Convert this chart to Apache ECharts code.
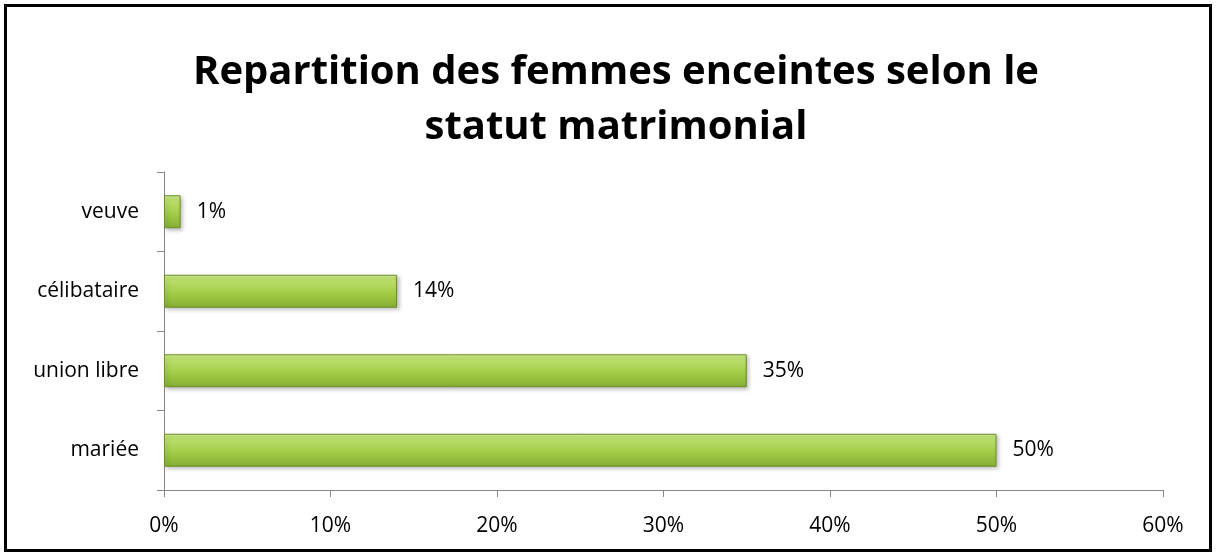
<!DOCTYPE html>
<html>
<head>
<meta charset="utf-8">
<script src="https://cdn.jsdelivr.net/npm/echarts@6/dist/echarts.min.js"></script>
<style>
  html, body { margin: 0; padding: 0; background: #fff; }
  #main { width: 1216px; height: 556px; box-sizing: border-box; }
  .frame { position: absolute; left: 4px; top: 4px; width: 1208px; height: 548px; box-sizing: border-box; border: 3px solid #000; pointer-events: none; }
</style>
</head>
<body>
<div id="main"></div>
<div class="frame"></div>
<script>
  // catégories de bas en haut
  var categories = ['mariée', 'union libre', 'célibataire', 'veuve'];
  var values = [50, 35, 14, 1];
  var xTicks = [0, 10, 20, 30, 40, 50, 60];

  var myChart = echarts.init(document.getElementById('main'));

  var option = {
    animation: false,
    title: {
      text: 'Repartition des femmes enceintes selon le\nstatut matrimonial',
      left: 611,
      textAlign: 'center',
      top: 40,
      textStyle: {
        fontFamily: 'Open Sans',
        fontWeight: 'bold',
        fontSize: 40,
        lineHeight: 55,
        color: '#000'
      }
    },
    grid: {
      left: 164,
      right: 53,
      top: 172,
      bottom: 66,
      containLabel: false
    },
    xAxis: {
      type: 'value',
      min: xTicks[0],
      max: xTicks[xTicks.length - 1],
      interval: 10,
      splitLine: { show: false },
      axisLine: { show: true, lineStyle: { color: '#868686', width: 1 } },
      axisTick: { show: true, length: 7, lineStyle: { color: '#868686' } },
      axisLabel: {
        formatter: '{value}%',
        fontFamily: 'Open Sans',
        fontSize: 21,
        color: '#000',
        margin: 26
      }
    },
    yAxis: {
      type: 'category',
      data: categories,
      axisLine: { show: true, lineStyle: { color: '#868686', width: 1 } },
      axisTick: { show: true, length: 7, lineStyle: { color: '#868686' } },
      axisLabel: {
        fontFamily: 'Open Sans',
        fontSize: 21,
        color: '#000',
        margin: 25
      }
    },
    series: [
      {
        type: 'bar',
        data: values,
        barWidth: 33,
        itemStyle: {
          // dégradé vertical pour imiter le relief
          color: new echarts.graphic.LinearGradient(0, 0, 0, 1, [
            { offset: 0, color: '#d6f09a' },
            { offset: 0.12, color: '#bfe171' },
            { offset: 0.55, color: '#a3cd48' },
            { offset: 1, color: '#86ad33' }
          ]),
          borderColor: '#6e8f2a',
          borderWidth: 1,
          shadowColor: 'rgba(0,0,0,0.25)',
          shadowBlur: 4,
          shadowOffsetX: 2,
          shadowOffsetY: 2
        },
        label: {
          show: true,
          position: 'right',
          distance: 16,
          formatter: '{c}%',
          fontFamily: 'Open Sans',
          fontSize: 21,
          color: '#000'
        }
      }
    ]
  };

  myChart.setOption(option);
</script>
</body>
</html>
